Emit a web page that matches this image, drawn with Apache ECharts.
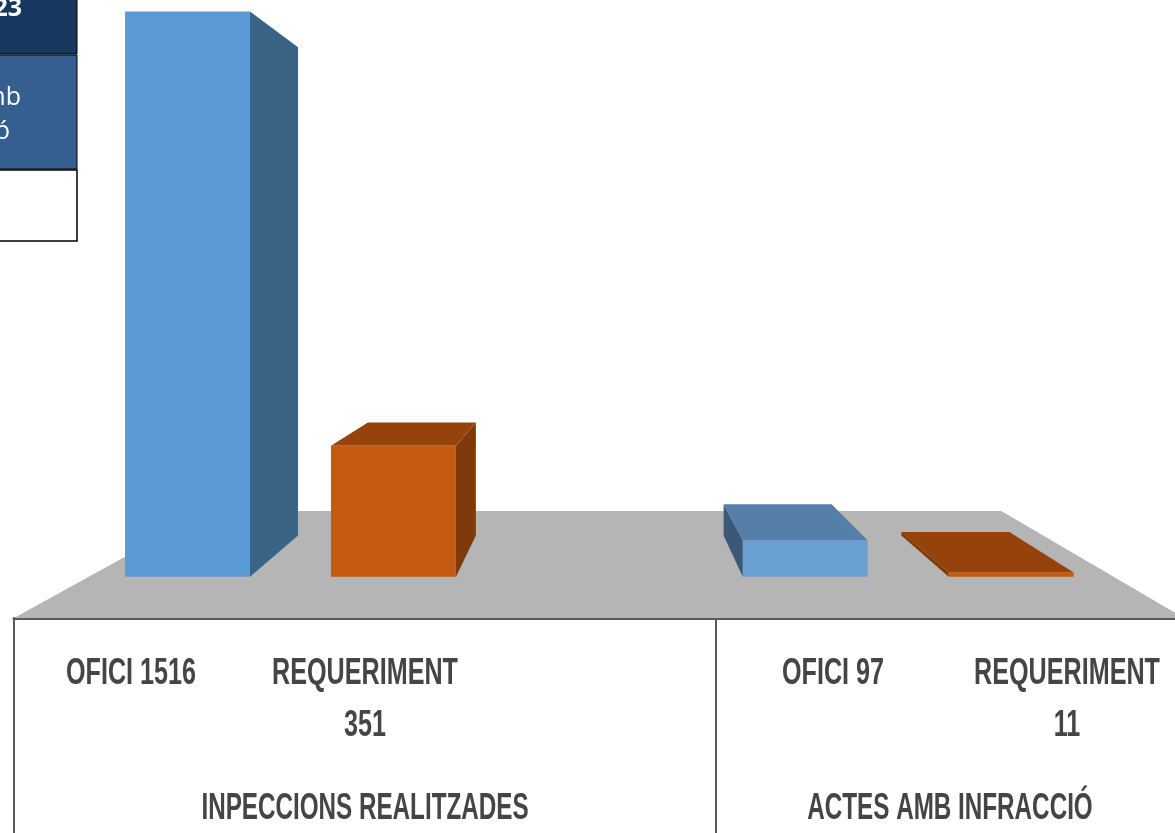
<!DOCTYPE html>
<html>
<head>
<meta charset="utf-8">
<title>Inspeccions</title>
<script src="https://cdn.jsdelivr.net/npm/echarts@6/dist/echarts.min.js"></script>
<style>
html, body { margin: 0; padding: 0; background: #fff; overflow: hidden; }
#myChart { width: 1175px; height: 833px; }
</style>
</head>
<body>
<div id="myChart"></div>
<script>
// dades llegides del grafic
var categories = ["OFICI 1516", "REQUERIMENT\n351", "", "OFICI 97", "REQUERIMENT\n11"];
var oficiValues = [[0, 1516], [3, 97]];
var requerimentValues = [[1, 351], [4, 11]];
var groupNames = ["INPECCIONS REALITZADES", "ACTES AMB INFRACCIÓ"];
var groupSpans = [[0, 2], [3, 4]];

// no hi ha cap lletra estreta instal.lada: s'estreny el text amb scaleX
var labelFont = "bold 37px 'Liberation Sans', sans-serif";
var labelColor = "#454545";
var LABEL_SCALE = 0.68;
var GROUP_SCALE = 0.655;

// perspectiva: punt de fuga i profunditat de les barres
var VANISH_X = 0.5026;
var VANISH_Y = 812;
var BAR_SCALE = 0.88;
var BACK_SCALE = 0.76;
var BAR_WIDTH = 0.607;
// el terra te el seu propi punt de fuga
var FLOOR_VANISH_X = 0.515;
var FLOOR_VANISH_Y = 784;
var FLOOR_BACK = 0.678;

function bar3d(colors) {
  return function (params, api) {
    var cs = params.coordSys;
    var i = params.dataIndex;
    var front = api.coord([api.value(0), 0]);
    var top = api.coord([api.value(0), api.value(1)]);
    var halfW = api.size([1, 0])[0] * BAR_WIDTH / 2;
    var vanish = [cs.x + cs.width * VANISH_X, api.coord([0, VANISH_Y])[1]];
    function project(x, y, s) {
      return [vanish[0] + (x - vanish[0]) * s, vanish[1] + (y - vanish[1]) * s];
    }
    var l = front[0] - halfW, r = front[0] + halfW;
    var fbl = project(l, front[1], BAR_SCALE), fbr = project(r, front[1], BAR_SCALE);
    var ftl = project(l, top[1], BAR_SCALE), ftr = project(r, top[1], BAR_SCALE);
    var bbl = project(l, front[1], BACK_SCALE), bbr = project(r, front[1], BACK_SCALE);
    var btl = project(l, top[1], BACK_SCALE), btr = project(r, top[1], BACK_SCALE);
    var side = fbr[0] < vanish[0] ? [ftr, btr, bbr, fbr] : [ftl, btl, bbl, fbl];
    var children = [{
      type: "polygon",
      shape: { points: side },
      style: { fill: colors.side[i] }
    }];
    if (ftl[1] > vanish[1]) {
      children.push({
        type: "polygon",
        shape: { points: [ftl, ftr, btr, btl] },
        style: { fill: colors.top }
      });
    }
    children.push({
      type: "polygon",
      shape: { points: [ftl, ftr, fbr, fbl] },
      style: { fill: colors.front[i] }
    });
    return { type: "group", children: children };
  };
}

function renderFloor(params, api) {
  var cs = params.coordSys;
  var y0 = api.coord([0, 0])[1];
  var vx = cs.x + cs.width * FLOOR_VANISH_X;
  var vy = api.coord([0, FLOOR_VANISH_Y])[1];
  var left = cs.x, right = cs.x + cs.width;
  return {
    type: "polygon",
    shape: {
      points: [
        [left, y0],
        [vx + (left - vx) * FLOOR_BACK, vy + (y0 - vy) * FLOOR_BACK],
        [vx + (right - vx) * FLOOR_BACK, vy + (y0 - vy) * FLOOR_BACK],
        [right, y0]
      ]
    },
    style: { fill: "#b5b5b5" }
  };
}

function narrowText(text, x, y, scale) {
  return {
    type: "text",
    x: x,
    y: y,
    scaleX: scale,
    style: {
      text: text,
      font: labelFont,
      fill: labelColor,
      lineHeight: 52,
      align: "center",
      verticalAlign: "top"
    }
  };
}

function renderCategory(params, api) {
  var p = api.coord([params.dataIndex, 0]);
  return narrowText(categories[params.dataIndex], p[0], p[1] + 30, LABEL_SCALE);
}

function renderGroup(params, api) {
  var band = api.size([1, 0])[0];
  var y0 = api.coord([0, 0])[1];
  var x1 = api.coord([api.value(0), 0])[0] - band / 2;
  var x2 = api.coord([api.value(1), 0])[0] + band / 2;
  return {
    type: "group",
    children: [{
      type: "line",
      shape: { x1: x1, y1: y0, x2: x1, y2: api.getHeight() },
      style: { stroke: "#595959", lineWidth: 2 }
    }, narrowText(groupNames[params.dataIndex], (x1 + x2) / 2, y0 + 165, GROUP_SCALE)]
  };
}

var myChart = echarts.init(document.getElementById("myChart"));

myChart.setOption({
  animation: false,
  backgroundColor: "#fff",
  grid: { left: 14, top: -60, width: 1170, height: 678, outerBoundsMode: "none" },
  xAxis: {
    type: "category",
    data: categories,
    axisTick: { show: false },
    axisLine: { lineStyle: { color: "#595959", width: 3 } },
    axisLabel: { show: false }
  },
  yAxis: { type: "value", min: 0, max: 1600, show: false },
  graphic: [
    // tros de taula retallat a la cantonada
    { type: "rect", shape: { x: -2, y: -2, width: 79, height: 56 }, style: { fill: "#17375e", stroke: "#000", lineWidth: 1 } },
    { type: "rect", shape: { x: -2, y: 55, width: 79, height: 114 }, style: { fill: "#365f91", stroke: "#000", lineWidth: 1 } },
    { type: "rect", shape: { x: -2, y: 170, width: 79, height: 71 }, style: { fill: "#fff", stroke: "#000", lineWidth: 1.5 } },
    { type: "text", x: 22, y: 9, style: { text: "2023", align: "right", verticalAlign: "middle", font: "bold 25px 'Open Sans', sans-serif", fill: "#fff" } },
    { type: "text", x: 21, y: 98, style: { text: "amb", align: "right", verticalAlign: "middle", font: "25px 'Open Sans', sans-serif", fill: "#fff" } },
    { type: "text", x: 10, y: 132, style: { text: "infracció", align: "right", verticalAlign: "middle", font: "25px 'Open Sans', sans-serif", fill: "#fff" } }
  ],
  series: [
    { type: "custom", name: "terra", coordinateSystem: "cartesian2d", clip: false, silent: true, z: 1, data: [[0, 0]], renderItem: renderFloor },
    { type: "custom", name: "OFICI", coordinateSystem: "cartesian2d", clip: false, z: 2, data: oficiValues, encode: { x: 0, y: 1 },
      renderItem: bar3d({ front: ["#5b9bd5", "#6a9fd4"], side: ["#3a6486", "#3b5877"], top: "#557fa8" }) },
    { type: "custom", name: "REQUERIMENT", coordinateSystem: "cartesian2d", clip: false, z: 2, data: requerimentValues, encode: { x: 0, y: 1 },
      renderItem: bar3d({ front: ["#c55a11", "#c55a11"], side: ["#7f3a0a", "#7f3a0a"], top: "#96430b" }) },
    { type: "custom", name: "etiquetes", coordinateSystem: "cartesian2d", clip: false, silent: true, z: 3, data: categories.map(function (c, i) { return [i, 0]; }), renderItem: renderCategory },
    { type: "custom", name: "grups", coordinateSystem: "cartesian2d", clip: false, silent: true, z: 3, data: groupSpans, renderItem: renderGroup }
  ]
});
</script>
</body>
</html>
